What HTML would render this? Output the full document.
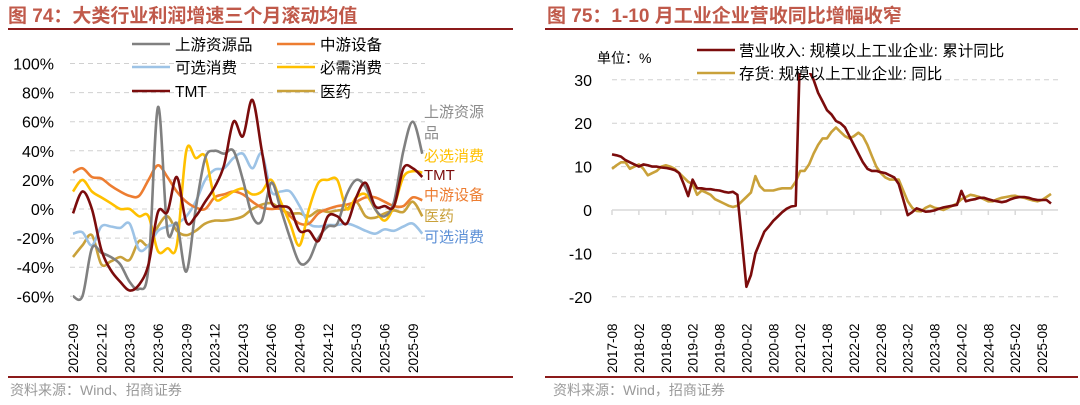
<!DOCTYPE html>
<html><head><meta charset="utf-8">
<style>
body{margin:0;background:#fff;width:1080px;height:405px;overflow:hidden;font-family:"Liberation Sans","Noto Sans CJK SC",sans-serif;}
svg{position:absolute;left:0;top:0}
</style></head>
<body>
<svg id="c" width="1080" height="405">
<text x="8" y="22" font-size="19" font-weight="bold" fill="#c0594a">图 74：大类行业利润增速三个月滚动均值</text>
<line x1="8" y1="29" x2="513" y2="29" stroke="#8b1a1a" stroke-width="2"/>
<text x="547" y="22" font-size="19" font-weight="bold" fill="#c0594a">图 75：1-10 月工业企业营收同比增幅收窄</text>
<line x1="545" y1="29" x2="1078" y2="29" stroke="#8b1a1a" stroke-width="2"/>
<line x1="8" y1="377" x2="513" y2="377" stroke="#8b1a1a" stroke-width="2"/>
<line x1="545" y1="377" x2="1078" y2="377" stroke="#8b1a1a" stroke-width="2"/>
<text x="10" y="395" font-size="14" fill="#999">资料来源：Wind、招商证券</text>
<text x="553" y="395" font-size="14" fill="#999">资料来源：Wind，招商证券</text>
<g id="L"></g><g id="R"></g>
</svg>
<script>
// ---- Left chart data ----
const leftMonths = ["2022-09","2022-12","2023-03","2023-06","2023-09","2023-12","2024-03","2024-06","2024-09","2024-12","2025-03","2025-06","2025-09"];
const leftTicks = [100,80,60,40,20,0,-20,-40,-60];
const upstream = [-60,-60,-27,-30,-33,-38,-50,-55,-40,70,-15,-10,-43,0,35,40,38,40,20,-5,-8,18,0,-20,-37,-35,-20,-12,-10,10,20,15,0,-5,5,40,60,38];
const midstream = [25,28,22,21,16,12,9,9,20,30,22,12,5,1,0,8,10,12,10,5,1,0,0,-5,-10,-10,-3,0,2,3,5,8,8,5,2,2,8,6];
const optional = [-17,-16,-25,-12,-12,-13,-10,-28,-25,-15,-12,-10,-5,5,20,27,28,35,38,28,38,12,12,12,2,-10,-12,-11,-11,-10,-12,-15,-17,-14,-15,-12,-10,-17];
const necessity = [12,20,12,8,4,0,0,-5,-5,-29,-27,-25,40,35,36,8,8,12,14,10,12,20,5,-10,-25,0,18,20,20,0,8,10,0,-8,2,22,26,25];
const tmt = [-3,12,0,-28,-42,-50,-56,-52,-38,-2,-2,22,-9,-5,5,15,30,60,50,75,40,5,2,0,-15,-15,-22,-5,-5,-10,8,18,2,2,2,28,28,22];
const pharma = [-33,-25,-18,-38,-36,-33,-35,-22,-25,-12,-5,-15,-18,-15,-10,-8,-8,-7,-5,0,3,4,0,-3,-3,-5,-1,-2,-1,0,5,-5,-6,-3,-1,-2,5,-5];
// ---- Right chart data ----
const rightLabels = ["2017-08","2018-02","2018-08","2019-02","2019-08","2020-02","2020-08","2021-02","2021-08","2022-02","2022-08","2023-02","2023-08","2024-02","2024-08","2025-02","2025-08"];
const rightTicks = [30,20,10,0,-10,-20];
const revenue = [12.8,12.6,12.3,11.5,11,10.5,10,10.5,10.3,10,10,9.8,9.7,9.5,9.2,8.5,6,3.2,7,5,5,4.8,4.8,4.6,4.5,4.2,4,4.2,3.5,-7,-17.7,-15,-10,-7.5,-5,-3.8,-2.5,-1.5,-0.5,0.3,0.8,1,38,36,32,30,27,25,23,22,20.5,20,19,17,15,13,11,9.5,9,9,8.7,8.5,8,7.5,6,2.5,-1.2,-0.5,0.4,0,-0.4,-0.3,-0.1,0.3,0.6,0.8,1,1.2,4.4,2,2.3,2.5,2.8,2.8,2.5,2.2,2,1.8,2,2.5,2.8,3,3,2.8,2.5,2.3,2.3,2.3,1.5];
const inventory = [9.5,10.3,11,11,9.5,10,10.5,9.5,8,8.5,9,10,10.3,10,9.5,8.5,7.5,6.5,6,3.5,4.5,4,3.5,2.5,2,1.5,1,0.7,1,2,3,4,7.8,5.5,4.5,4.5,4.5,4.8,5,5,5,6.5,9,9,10.5,13,15,16.5,16.5,18,19,18,17,16.5,17,17.8,17,15,12.5,10,8.5,7.5,7,7,7,4.5,2,0.5,-0.2,-0.3,0.5,1,0.5,0.3,0,0.5,1,1.5,2.5,3,3.5,3.3,3,2.5,2,2,2.5,2.8,3,3.2,3.3,3,2.8,2.5,2.2,2,2.3,3,3.7];

const NS="http://www.w3.org/2000/svg";
function mk(parent,tag,attrs,text){const e=document.createElementNS(NS,tag);for(const k in attrs)e.setAttribute(k,attrs[k]);if(text!==undefined)e.textContent=text;parent.appendChild(e);return e;}
function smooth(pts){let d="M"+pts[0][0]+","+pts[0][1];for(let i=0;i<pts.length-1;i++){const p0=pts[Math.max(0,i-1)],p1=pts[i],p2=pts[i+1],p3=pts[Math.min(pts.length-1,i+2)];const c1x=p1[0]+(p2[0]-p0[0])/6,c1y=p1[1]+(p2[1]-p0[1])/6,c2x=p2[0]-(p3[0]-p1[0])/6,c2y=p2[1]-(p3[1]-p1[1])/6;d+=" C"+c1x.toFixed(1)+","+c1y.toFixed(1)+" "+c2x.toFixed(1)+","+c2y.toFixed(1)+" "+p2[0].toFixed(1)+","+p2[1].toFixed(1);}return d;}

// Left axes
const L=document.getElementById('L');
const lx=i=>73+9.44*i, ly=v=>209-1.455*v;
leftTicks.forEach(t=>{
  const g=mk(L,'line',{x1:70,x2:425,y1:ly(t),y2:ly(t),stroke:'#d0d0d0','stroke-dasharray':'5,4'});
  
  
  const tx=mk(L,'text',{x:54,y:ly(t)+6,'font-size':16,'text-anchor':'end',fill:'#000'},t+'%');
  
  
});
leftMonths.forEach((m,k)=>{
  const x=lx(k*3);
  const tx=mk(L,'text',{x:0,y:0,'font-size':13.5,fill:'#000',transform:`translate(${x+5},373) rotate(-90)`},m);
  
  
});
const lseries=[[pharma,'#c9a13a','pharma'],[optional,'#9dc3e6','optional-consumption'],[midstream,'#ed7d31','midstream-equipment'],[necessity,'#ffc000','necessity-consumption'],[upstream,'#808080','upstream-resources'],[tmt,'#7b0c0c','tmt']];
lseries.forEach(([arr,col,nm])=>{
  const p=mk(L,'path',{d:smooth(arr.map((v,i)=>[lx(i),ly(v)])),fill:'none',stroke:col,'stroke-width':2.6,'stroke-linejoin':'round'});
  
  
});
// left legend
const leg=[['上游资源品','#808080',132,44],['中游设备','#ed7d31',277,44],['可选消费','#9dc3e6',132,67],['必需消费','#ffc000',277,67],['TMT','#7b0c0c',132,91],['医药','#c9a13a',277,91]];
leg.forEach(([t,c,x,y])=>{
  const g=mk(L,'g',{});
  
  
  mk(g,'line',{x1:x,x2:x+38,y1:y,y2:y,stroke:c,'stroke-width':2.6});
  mk(g,'text',{x:x+43,y:y+6,'font-size':15.5,fill:'#000'},t);
});
const ends=[['上游资源','#8c8c8c',112],['品','#8c8c8c',133],['必选消费','#ffc000',156],['TMT','#7b0c0c',175],['中游设备','#ed7d31',195],['医药','#c9a13a',216],['可选消费','#5b8fd6',237]];
ends.forEach(([t,c,y])=>{
  const tx=mk(L,'text',{x:424,y:y+5,'font-size':15,fill:c},t);
  
  
});

// Right axes
const R=document.getElementById('R');
const rx=i=>612+4.48*i, ry=v=>210-4.34*v;
rightTicks.forEach(t=>{
  if(t!==0){const g=mk(R,'line',{x1:612,x2:1058,y1:ry(t),y2:ry(t),stroke:'#d0d0d0','stroke-dasharray':'5,4'});
  
  }
  const tx=mk(R,'text',{x:592,y:ry(t)+6,'font-size':16,'text-anchor':'end',fill:'#000'},t);
  
  
});
const ax=mk(R,'line',{x1:612,x2:1058,y1:ry(0),y2:ry(0),stroke:'#d9d9d9','stroke-width':1.5});


rightLabels.forEach((m,k)=>{
  const x=rx(k*6);
  mk(R,'line',{x1:x,x2:x,y1:ry(0),y2:ry(0)+5,stroke:'#d9d9d9','stroke-width':1.5});
  const tx=mk(R,'text',{x:0,y:0,'font-size':13.5,fill:'#000',transform:`translate(${x+5},373) rotate(-90)`},m);
  
  
});
const cp=mk(R,'clipPath',{id:'rc'});
mk(cp,'rect',{x:600,y:73,width:470,height:240});
[[inventory,'#c9a13a','inventory-yoy'],[revenue,'#7b0c0c','revenue-cumulative-yoy']].forEach(([arr,col,nm])=>{
  const p=mk(R,'polyline',{points:arr.map((v,i)=>rx(i).toFixed(1)+','+ry(v).toFixed(1)).join(' '),fill:'none',stroke:col,'stroke-width':2.6,'stroke-linejoin':'round','clip-path':'url(#rc)'});
  
  
});
const unit=mk(R,'text',{x:597,y:63,'font-size':14,fill:'#000'},'单位：%');


[['营业收入: 规模以上工业企业: 累计同比','#7b0c0c',50],['存货: 规模以上工业企业: 同比','#c9a13a',73]].forEach(([t,c,y])=>{
  const g=mk(R,'g',{});
  
  
  mk(g,'line',{x1:697,x2:735,y1:y,y2:y,stroke:c,'stroke-width':2.6});
  mk(g,'text',{x:739,y:y+6,'font-size':15.5,fill:'#000'},t);
});
</script>
</body></html>
